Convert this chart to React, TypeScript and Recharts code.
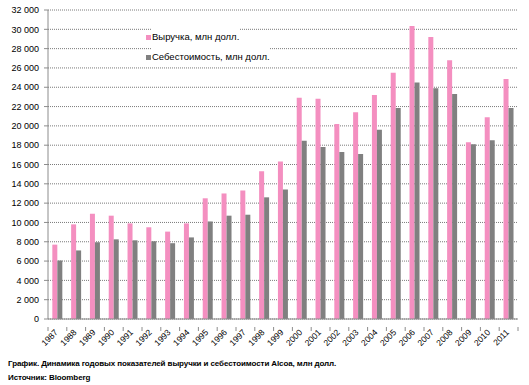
import React from "react";
import { BarChart, Bar, XAxis, YAxis, CartesianGrid } from "recharts";

const years = ["1987","1988","1989","1990","1991","1992","1993","1994","1995","1996","1997","1998","1999","2000","2001","2002","2003","2004","2005","2006","2007","2008","2009","2010","2011"];
const revenue = [7700,9800,10900,10700,9900,9500,9050,9900,12500,13000,13300,15300,16300,22900,22800,20200,21400,23200,25500,30350,29200,26800,18300,20900,24850];
const cost = [6060,7100,7950,8250,8150,8050,7850,8450,10100,10700,10800,12600,13400,18450,17800,17300,17100,19600,21850,24500,23900,23300,18100,18500,21850];
const yTicks = [0,2000,4000,6000,8000,10000,12000,14000,16000,18000,20000,22000,24000,26000,28000,30000,32000];

const data = years.map((y, i) => ({ year: y, revenue: revenue[i], cost: cost[i] }));

const PINK = "#f48fc0";
const GRAY = "#808080";
const AXIS = "#8c8c8c";
const FONT = "'Liberation Sans', Arial, sans-serif";

const W = 529;
const H = 385;
const LEFT = 48;
const RIGHT = 11;
const BAND = (W - LEFT - RIGHT) / years.length;

const fmt = (v: number) => (v === 0 ? "0" : v.toLocaleString("en-US").replace(/,/g, " "));

const XTick = (props: any) => {
  const { x, y, payload } = props;
  return (
    <g>
      <line x1={x - BAND / 2} y1={y} x2={x - BAND / 2} y2={y + 4} stroke={AXIS} />
      {payload.index === years.length - 1 && (
        <line x1={x + BAND / 2} y1={y} x2={x + BAND / 2} y2={y + 4} stroke={AXIS} />
      )}
      <text
        x={x + 1}
        y={y + 6}
        textAnchor="end"
        fontSize={8.5}
        fontFamily={FONT}
        fill="#000"
        transform={`rotate(-45, ${x + 1}, ${y + 6})`}
      >
        {payload.value}
      </text>
    </g>
  );
};

export default function App() {
  return (
    <div style={{ position: "absolute", left: 0, top: 0, width: W, height: 385, background: "#fff" }}>
      <BarChart
        width={W}
        height={H}
        data={data}
        margin={{ top: 10, right: RIGHT, left: 0, bottom: 40 }}
        barCategoryGap="23%"
        barGap={0}
      >
        <CartesianGrid vertical={false} stroke="#7a7a7a" strokeDasharray="1 1" />
        <XAxis
          dataKey="year"
          height={26}
          interval={0}
          stroke={AXIS}
          tickLine={false}
          tick={<XTick />}
        />
        <YAxis
          width={LEFT}
          domain={[0, 32000]}
          ticks={yTicks}
          interval={0}
          tickFormatter={fmt}
          stroke={AXIS}
          tickSize={4}
          tickMargin={5}
          tick={{ fontSize: 9, fontFamily: FONT, fill: "#000" }}
        />
        <Bar dataKey="revenue" fill={PINK} isAnimationActive={false} />
        <Bar dataKey="cost" fill={GRAY} isAnimationActive={false} />
      </BarChart>
      <div style={{ position: "absolute", left: 146, top: 27, fontFamily: FONT, fontSize: 9.5, color: "#000", lineHeight: "20px", background: "transparent" }}>
        <div style={{ display: "flex", alignItems: "center" }}>
          <span style={{ display: "inline-block", width: 5, height: 5, background: PINK, marginRight: 1 }} />
          <span style={{ background: "#fff" }}>Выручка, млн долл.</span>
        </div>
        <div style={{ display: "flex", alignItems: "center" }}>
          <span style={{ display: "inline-block", width: 5, height: 5, background: GRAY, marginRight: 1 }} />
          <span style={{ background: "#fff" }}>Себестоимость, млн долл.</span>
        </div>
      </div>
      <div style={{ position: "absolute", left: 8, top: 357, fontFamily: FONT, fontWeight: "bold", fontSize: 8, color: "#000", lineHeight: "14px", letterSpacing: -0.1 }}>
        <div>График. Динамика годовых показателей выручки и себестоимости Alcoa, млн долл.</div>
        <div>Источник: Bloomberg</div>
      </div>
    </div>
  );
}
